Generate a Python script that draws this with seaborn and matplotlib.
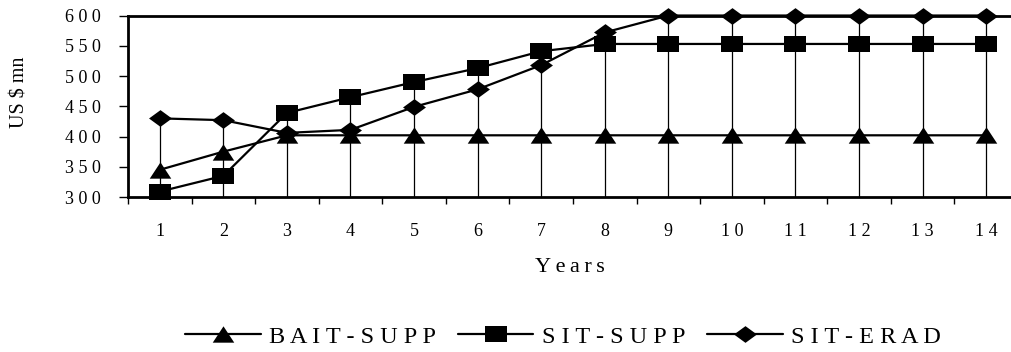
import numpy as np
import pandas as pd
import seaborn as sns
import matplotlib
matplotlib.use("Agg")
import matplotlib.pyplot as plt
from matplotlib.path import Path
from matplotlib.markers import MarkerStyle

# Annual cost of each control strategy (US $ mn)
years = list(range(1, 15))
bait_supp = [345, 375, 402, 402, 402, 402, 402, 402, 402, 402, 402, 402, 402, 402]
sit_supp = [309, 335, 439, 465, 490, 513, 541, 553, 553, 553, 553, 553, 553, 553]
sit_erad = [430, 427, 406, 411, 449, 478, 518, 572, 600, 600, 600, 600, 600, 600]
series_names = ["BAIT-SUPP", "SIT-SUPP", "SIT-ERAD"]
y_ticks = [300, 350, 400, 450, 500, 550, 600]


def spaced(s, sep=" "):
    return sep.join(str(s))


df = pd.DataFrame({
    "Year": years * 3,
    "Cost": bait_supp + sit_supp + sit_erad,
    "Scenario": [n for n in series_names for _ in years],
})

# Flattened marker shapes
tri = MarkerStyle(Path([(0, 0.76), (1, -0.76), (-1, -0.76), (0, 0.76)], closed=True))
rect = MarkerStyle(Path([(-1, -0.76), (1, -0.76), (1, 0.76), (-1, 0.76), (-1, -0.76)], closed=True))
dia = MarkerStyle(Path([(-1, 0), (0, 0.73), (1, 0), (0, -0.73), (-1, 0)], closed=True))
markers = {"BAIT-SUPP": tri, "SIT-SUPP": rect, "SIT-ERAD": dia}
msizes = {"BAIT-SUPP": 15.5, "SIT-SUPP": 15.5, "SIT-ERAD": 16.5}

sns.set_theme(style="white")
plt.rcParams["font.family"] = ["Liberation Serif", "DejaVu Serif"]

fig = plt.figure(figsize=(10.11, 3.52), dpi=100)
ax = fig.add_axes([0.1266, 0.4403, 0.8803, 0.5156])
ax.set_facecolor("white")

# drop lines from the highest value of each year to the axis
top = df.groupby("Year")["Cost"].max()
ax.vlines(top.index, y_ticks[0], top.values, color="black", lw=0.9, zorder=1)

for name in series_names:
    sub = df[df["Scenario"] == name]
    sns.lineplot(data=sub, x="Year", y="Cost", ax=ax, color="black", lw=1.6,
                 marker=markers[name], markersize=msizes[name],
                 markeredgecolor="black", markeredgewidth=0, clip_on=False,
                 label=spaced(name), legend=False, zorder=3)

ax.set_xlim(0.5, 14.5)
ax.set_ylim(300, 600)
ax.set_yticks(y_ticks)
ax.set_yticklabels([spaced(v) for v in y_ticks], fontsize=13)
ax.set_xticks(years)
ax.set_xticklabels([spaced(v) for v in years], fontsize=13)
ax.set_xticks(np.arange(0.5, 15.0, 1.0), minor=True)
ax.tick_params(axis="x", which="major", length=0, pad=19, colors="black")
ax.tick_params(axis="x", which="minor", length=5, width=1, direction="out",
               bottom=True, color="black")
ax.tick_params(axis="y", which="major", length=6.5, width=1, direction="out",
               left=True, pad=13, colors="black")

for side in ["left", "bottom", "top"]:
    ax.spines[side].set_visible(True)
    ax.spines[side].set_color("black")
    ax.spines[side].set_linewidth(2)
ax.spines["right"].set_visible(False)

ax.set_ylabel("US $ mn", fontsize=14.5, color="black")
ax.yaxis.label.set_va("center")
ax.yaxis.set_label_coords(-0.121, 0.578)
ax.set_xlabel(spaced("Years", "\u2009"), fontsize=16, color="black")
ax.xaxis.label.set_va("center")
ax.xaxis.set_label_coords(0.497, -0.391)

handles, labels = ax.get_legend_handles_labels()
fig.legend(handles, labels, loc="center", bbox_to_anchor=(0.557, 0.043), ncol=3,
           frameon=False, fontsize=17.5, handlelength=3.1, handletextpad=0.35,
           columnspacing=0.9, labelcolor="black")

fig.savefig("out.png", dpi=100, facecolor="white")
